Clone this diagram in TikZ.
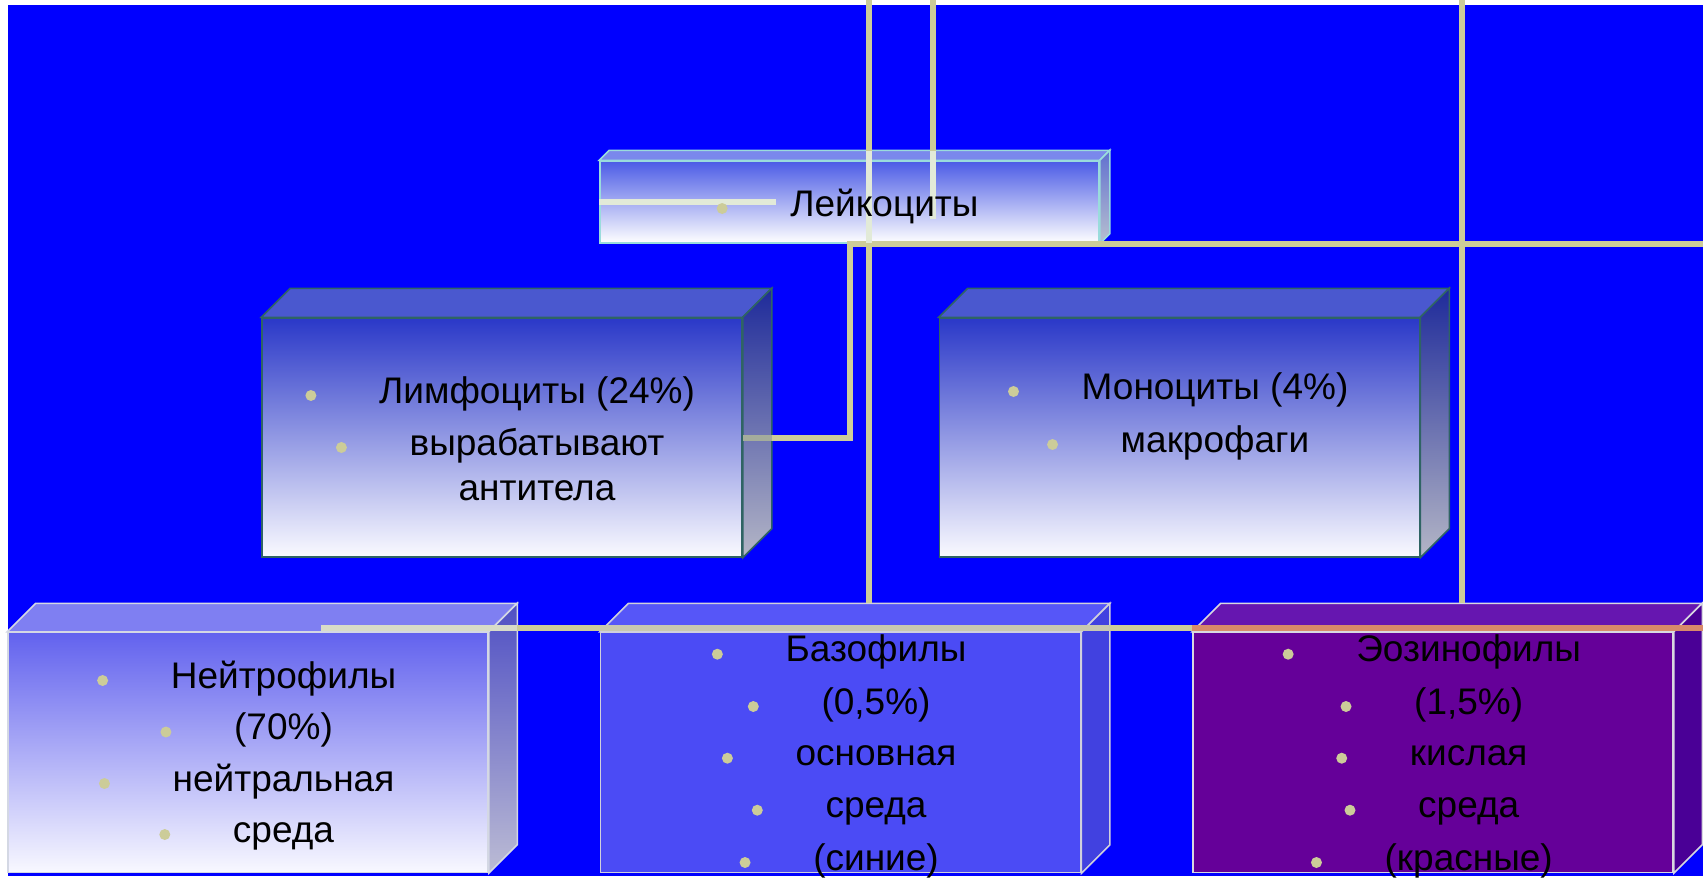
\documentclass[tikz,border=0pt]{standalone}
\usepackage{fontspec}
\setmainfont{Liberation Sans}
\usetikzlibrary{calc}
\definecolor{bg}{HTML}{0000FF}
\definecolor{lnc}{HTML}{CCCC99}
\definecolor{lnlt}{HTML}{E2EAD8}
\definecolor{lnne}{HTML}{D8DCC8}
\definecolor{lnba}{HTML}{C8C8B0}
\definecolor{lnside}{HTML}{A4AC9C}
\definecolor{salmon}{HTML}{D88A6A}
\definecolor{leuTopC}{HTML}{4B5BE6}
\definecolor{leuFace}{HTML}{7A88EC}
\definecolor{leuEdge}{HTML}{9ADCDC}
\definecolor{leuS1}{HTML}{6070D0}
\definecolor{leuS2}{HTML}{B8C0D0}
\definecolor{lmF1}{HTML}{2A38C8}
\definecolor{lmF2}{HTML}{FAFAFF}
\definecolor{lmFace}{HTML}{4A58CF}
\definecolor{lmS1}{HTML}{1E2A9A}
\definecolor{lmS2}{HTML}{B4B6C6}
\definecolor{lmEdge}{HTML}{2F6464}
\definecolor{neF1}{HTML}{6262EE}
\definecolor{neF2}{HTML}{F8F8FF}
\definecolor{neFace}{HTML}{7F7FF2}
\definecolor{neS1}{HTML}{4F4FC4}
\definecolor{neS2}{HTML}{BCBCD4}
\definecolor{neEdge}{HTML}{D4D8E4}
\definecolor{baF}{HTML}{4B4BF5}
\definecolor{baFace}{HTML}{5656F8}
\definecolor{baS}{HTML}{4141E0}
\definecolor{baEdge}{HTML}{D0D0DC}
\definecolor{eoF}{HTML}{650099}
\definecolor{eoFace}{HTML}{6616B0}
\definecolor{eoS}{HTML}{4A0096}
\definecolor{eoEdge}{HTML}{D8D8E0}
\tikzset{
  conn/.style={draw=lnc, line width=6pt},
  connlt/.style={draw=lnlt, line width=6pt},
  bul/.style={fill=lnc},
  txt/.style={font=\fontsize{37}{44}\selectfont, inner sep=0pt, anchor=base, text=black},
  leuF/.style={top color=leuTopC, bottom color=white, draw=leuEdge, line width=1.5pt},
  leutop/.style={fill=leuFace, draw=leuEdge, line width=1.5pt},
  leuside/.style={top color=leuS1, bottom color=leuS2, draw=leuEdge, line width=1.5pt},
  lmF/.style={top color=lmF1, bottom color=lmF2, draw=lmEdge, line width=1.5pt},
  lmtop/.style={fill=lmFace, draw=lmEdge, line width=1.5pt},
  lmside/.style={top color=lmS1, bottom color=lmS2, draw=lmEdge, line width=1.5pt},
  neF/.style={top color=neF1, bottom color=neF2, draw=neEdge, line width=1.5pt},
  netop/.style={fill=neFace, draw=neEdge, line width=1.5pt},
  neside/.style={top color=neS1, bottom color=neS2, draw=neEdge, line width=1.5pt},
  baFr/.style={fill=baF, draw=baEdge, line width=1.5pt},
  batop/.style={fill=baFace, draw=baEdge, line width=1.5pt},
  baside/.style={fill=baS, draw=baEdge, line width=1.5pt},
  eoFr/.style={fill=eoF, draw=eoEdge, line width=1.5pt},
  eotop/.style={fill=eoFace, draw=eoEdge, line width=1.5pt},
  eoside/.style={fill=eoS, draw=eoEdge, line width=1.5pt},
}
% #1 name, #2 cx, #3 cy, #4 w, #5 h, #6 depth, #7 front style, #8 prefix
\newcommand{\cubebox}[8]{%
  \node[inner sep=0pt, minimum width=#4pt, minimum height=#5pt, #7] (#1) at (#2,#3) {};
  \path[#8top] (#1.north west) -- ++(#6,-#6) -- ($(#1.north east)+(#6,-#6)$) -- (#1.north east) -- cycle;
  \path[#8side] (#1.north east) -- ++(#6,-#6) -- ($(#1.south east)+(#6,-#6)$) -- (#1.south east) -- cycle;
}
% #1 name, #2 cx, #3 baseline, #4 text
\newcommand{\bline}[4]{%
  \node[txt] (#1) at (#2,#3) {#4};
  \fill[bul] ($(#1.base west)+(-68,-7.5)$) circle (5.5);
}
\begin{document}
\begin{tikzpicture}[x=1pt,y=-1pt]
\useasboundingbox (0,0) rectangle (1703,879);
\fill[white] (0,0) rectangle (1703,879);
\fill[bg] (7.5,5) rectangle (1703,876);

% boxes
\cubebox{leu}{849.5}{202}{499}{82}{10}{leuF}{leu}
\cubebox{lym}{502}{437.5}{480}{239}{29}{lmF}{lm}
\cubebox{mon}{1179.5}{437.5}{480}{239}{29}{lmF}{lm}
\cubebox{neu}{248}{752.5}{480}{240}{28.5}{neF}{ne}
\cubebox{bas}{840.7}{752.5}{480}{240}{28.5}{baFr}{ba}
\cubebox{eos}{1433}{752.5}{480}{240}{28.5}{eoFr}{eo}

% connectors
\coordinate (basB) at ($(bas.north)+(28.5,-28.5)$);
\coordinate (eosB) at ($(eos.north)+(28.5,-28.5)$);
\coordinate (r1) at (1703,244);
\coordinate (h3a) at (321,628);
\coordinate (h3b) at (1703,628);
\coordinate (v2a) at (933,0);
\coordinate (v2b) at (933,219);

\draw[conn] (r1) -- (r1 -| leu.south) -- (leu.south |- lym.east) -- ($(lym.east)+(29,0)$);
\draw[conn, draw=lnside] ($(lym.east)+(29,0)$) -- (lym.east);
\draw[conn] (basB |- 0,0) -- (basB);
\draw[connlt] (basB |- 0,151) -- (basB |- 0,243);
\draw[conn] (v2a) -- (v2a |- 0,151);
\draw[connlt] (v2a |- 0,151) -- (v2b);
\draw[conn] (eosB |- 0,0) -- (eosB);
\draw[connlt] (leu.west) -- ++(177,0);
\draw[conn] (h3a) -- (h3b);
\draw[conn, draw=lnne] (h3a) -- ($(neu.north east |- h3a)+(28.5,0)$);
\draw[conn, draw=lnba] (bas.north west |- h3a) -- ($(bas.north east |- h3a)+(28.5,0)$);
\draw[conn, draw=salmon] (eos.north west |- h3a) -- (h3b);

% texts
\bline{t0}{884.4}{216}{Лейкоциты}
\bline{ly1}{537}{403}{Лимфоциты (24\%)}
\bline{ly2}{537}{455}{вырабатывают}
\node[txt] (ly3) at (537,500) {антитела};
\bline{mo1}{1215}{399}{Моноциты (4\%)}
\bline{mo2}{1215}{452}{макрофаги}
\bline{ne1}{283.5}{688}{Нейтрофилы}
\bline{ne2}{283.5}{739.5}{(70\%)}
\bline{ne3}{283.5}{791}{нейтральная}
\bline{ne4}{283.5}{842}{среда}
\bline{ba1}{876}{661.7}{Базофилы}
\bline{ba2}{876}{714}{(0,5\%)}
\bline{ba3}{876}{765.7}{основная}
\bline{ba4}{876}{817.7}{среда}
\bline{ba5}{876}{870}{(синие)}
\bline{eo1}{1468.7}{661.7}{Эозинофилы}
\bline{eo2}{1468.7}{714}{(1,5\%)}
\bline{eo3}{1468.7}{765.7}{кислая}
\bline{eo4}{1468.7}{817.7}{среда}
\bline{eo5}{1468.7}{870}{(красные)}
\end{tikzpicture}
\end{document}
